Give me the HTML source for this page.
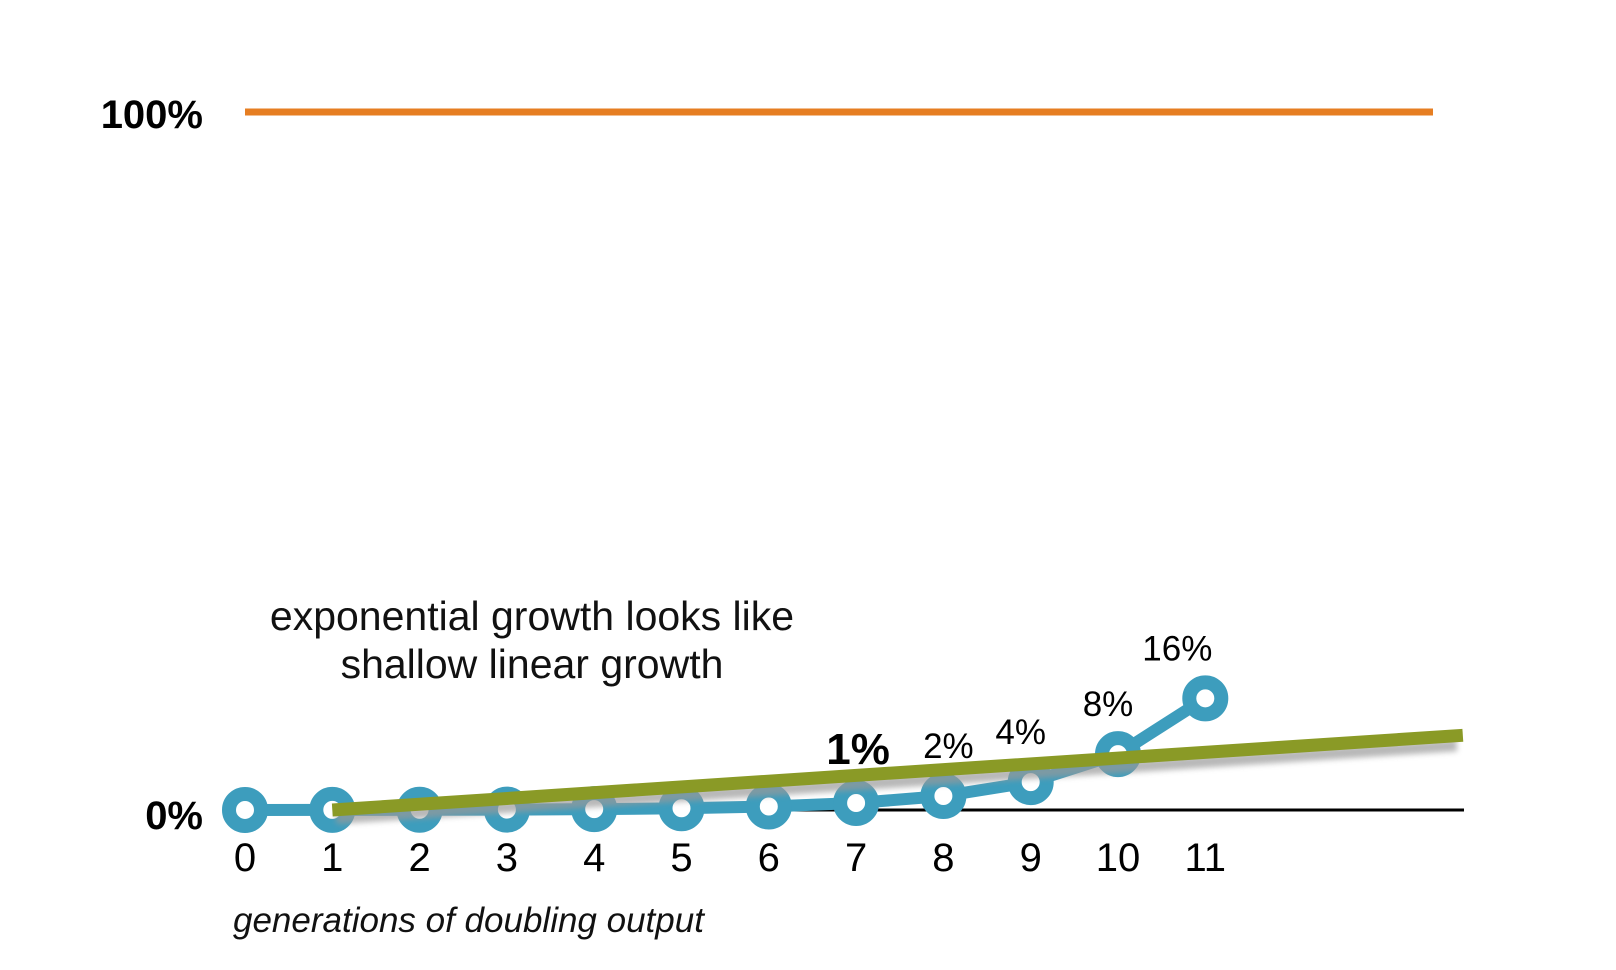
<!DOCTYPE html>
<html><head><meta charset="utf-8"><style>
html,body{margin:0;padding:0;background:#fff;}
svg{display:block;font-family:"Liberation Sans",sans-serif;}
</style></head><body>
<svg id="chart" width="1616" height="970" viewBox="0 0 1616 970" xmlns="http://www.w3.org/2000/svg">
<defs><filter id="blur" x="-5%" y="-50%" width="110%" height="200%"><feGaussianBlur stdDeviation="3"/></filter></defs>
<g id="layer"></g>
</svg>
<script>
const generations = [0,1,2,3,4,5,6,7,8,9,10,11];
const percentValues = [0.008,0.016,0.03,0.06,0.125,0.25,0.5,1,2,4,8,16];
const pointLabels = ["","","","","","","","1%","2%","4%","8%","16%"];
const trendGen = [1,13.95];
const trendValues = [0,10.7];
const xTicks = ["0","1","2","3","4","5","6","7","8","9","10","11"];

const NS="http://www.w3.org/2000/svg";
const g=document.getElementById('layer');
const X=gen=>245+gen*87.3;
const Y=v=>810-v*6.98;
function el(t,a,txt){const e=document.createElementNS(NS,t);for(const k in a)e.setAttribute(k,a[k]);if(txt!==undefined)e.textContent=txt;g.appendChild(e);return e;}

let e;
e=el('line',{x1:X(0),y1:Y(100),x2:1433,y2:Y(100),stroke:'#e67e22','stroke-width':7});


e=el('text',{x:203,y:128,'text-anchor':'end','font-size':40,'font-weight':'bold'},'100%');


e=el('text',{x:203,y:829,'text-anchor':'end','font-size':40,'font-weight':'bold'},'0%');


e=el('line',{x1:X(0),y1:Y(0),x2:1464,y2:Y(0),stroke:'#000','stroke-width':3});



xTicks.forEach((t,i)=>{
  const e=el('text',{x:X(generations[i]),y:871,'text-anchor':'middle','font-size':40},t);
  
  
});
e=el('text',{x:233,y:932,'font-size':35,'font-style':'italic','fill':'#111'},'generations of doubling output');



e=el('text',{x:532,y:630,'text-anchor':'middle','font-size':41,'fill':'#111'},'exponential growth looks like');


e=el('text',{x:532,y:678,'text-anchor':'middle','font-size':41,'fill':'#111'},'shallow linear growth');



const pts=generations.map((gen,i)=>X(gen)+','+Y(percentValues[i])).join(' ');
e=el('polyline',{points:pts,fill:'none',stroke:'#3d9dbd','stroke-width':12,'stroke-linejoin':'round'});


generations.forEach((gen,i)=>{
  const c=el('circle',{cx:X(gen),cy:Y(percentValues[i]),r:16,fill:'#fff',stroke:'#3d9dbd','stroke-width':14});
  
  
});

e=el('line',{x1:X(trendGen[0])+4,y1:Y(trendValues[0])+8,x2:X(trendGen[1])-6,y2:Y(trendValues[1])+10,stroke:'#999','stroke-width':12,opacity:0.7,filter:'url(#blur)'});


e=el('line',{x1:X(trendGen[0]),y1:Y(trendValues[0]),x2:X(trendGen[1]),y2:Y(trendValues[1]),stroke:'#8a9a26','stroke-width':13});



const labelShift=[0,0,0,0,0,0,0,0,5,-10,-10,-28];
pointLabels.forEach((t,i)=>{
  if(!t)return;
  const big=t==='1%';
  const l=el('text',{x:X(generations[i])+(big?2:0)+labelShift[i],y:Y(percentValues[i])-(big?39:38),'text-anchor':'middle','font-size':big?44:35,'font-weight':big?'bold':'normal'},t);
  
  
});
</script>
</body></html>
